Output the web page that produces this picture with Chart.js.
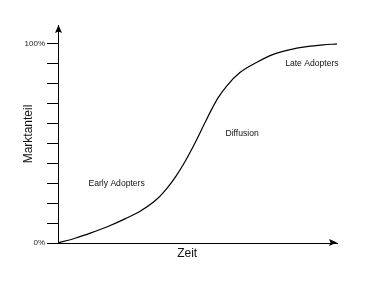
<!DOCTYPE html>
<html>
<head>
<meta charset="utf-8">
<script src="https://cdn.jsdelivr.net/npm/chart.js@4/dist/chart.umd.min.js"></script>
<style>
    body { margin: 0; background: #fff; }
    #chart { display: block; }
</style>
</head>
<body>
<canvas id="chart" width="372" height="289"></canvas>
<script>
// S-Kurve: Zeit (0..100) gegen Marktanteil (%)
const zeit = [0, 6.1, 11.8, 17.9, 24.0, 29.7, 35.8, 39.4, 42.3, 45.5, 49.1, 52.7, 55.2, 57.3, 60.6, 65.2, 71.3, 76.7, 82.8, 89.2, 95.0, 100];
const marktanteil = [0, 2.4, 5.1, 8.3, 12.1, 16.2, 22.5, 28.1, 33.6, 40.8, 50.2, 60.5, 67.5, 72.8, 79.1, 85.6, 90.8, 94.5, 97.0, 98.6, 99.5, 100];

const yTickValues = [0, 100];
const yTickTexts = ["0%", "100%"];

// Beschriftungen der Phasen (in Datenkoordinaten)
const phaseNames = ["Early Adopters", "Diffusion", "Late Adopters"];
const phaseX = [21, 66, 91];
const phaseY = [29.6, 54.8, 90];

const xTitle = "Zeit";
const xTitleAt = 46.3;
const yTitle = "Marktanteil";

const FONT = "'Liberation Sans', Arial, sans-serif";

// Pfeile, Texte, weisser Hintergrund
const decoPlugin = {
    id: "deco",
    beforeDraw(chart) {
        const ctx = chart.ctx;
        ctx.save();
        ctx.fillStyle = "#fff";
        ctx.fillRect(0, 0, chart.width, chart.height);
        ctx.restore();
    },
    afterDraw(chart) {
        const ctx = chart.ctx;
        const a = chart.chartArea;
        const xs = chart.scales.x;
        const ys = chart.scales.y;
        ctx.save();
        ctx.fillStyle = "#000";

        // Pfeil y-Achse
        const ax = a.left + 0.5;
        ctx.beginPath();
        ctx.moveTo(ax, a.top);
        ctx.lineTo(ax - 3.5, a.top + 8);
        ctx.lineTo(ax, a.top + 6.5);
        ctx.lineTo(ax + 3.5, a.top + 8);
        ctx.closePath();
        ctx.fill();

        // Pfeil x-Achse
        const by = a.bottom - 0.5;
        ctx.beginPath();
        ctx.moveTo(a.right, by);
        ctx.lineTo(a.right - 8, by - 3.5);
        ctx.lineTo(a.right - 6.5, by);
        ctx.lineTo(a.right - 8, by + 3.5);
        ctx.closePath();
        ctx.fill();

        // Phasen
        ctx.font = "8.6px " + FONT;
        ctx.fillStyle = "#111";
        ctx.textAlign = "center";
        ctx.textBaseline = "middle";
        phaseNames.forEach((name, i) => {
            ctx.fillText(name, xs.getPixelForValue(phaseX[i]), ys.getPixelForValue(phaseY[i]));
        });

        // x-Achsentitel
        ctx.font = "12px " + FONT;
        ctx.fillText(xTitle, xs.getPixelForValue(xTitleAt), a.bottom + 11);
        ctx.restore();
    }
};

const ctx = document.getElementById("chart").getContext("2d");
new Chart(ctx, {
    type: "line",
    data: {
        datasets: [{
            data: zeit.map((x, i) => ({ x: x, y: marktanteil[i] })),
            borderColor: "#000",
            borderWidth: 1.2,
            pointRadius: 0,
            fill: false,
            cubicInterpolationMode: "monotone"
        }]
    },
    options: {
        responsive: false,
        animation: false,
        layout: { padding: { top: 25, right: 35, bottom: 0, left: 0 } },
        plugins: { legend: { display: false }, tooltip: { enabled: false } },
        scales: {
            x: {
                type: "linear",
                min: 0,
                max: 100,
                ticks: { display: false },
                grid: { drawOnChartArea: false, drawTicks: false },
                border: { display: true, color: "#000", width: 1 },
                afterFit: s => { s.height = 46; }
            },
            y: {
                min: 0,
                max: 109.5,
                ticks: {
                    stepSize: 10,
                    padding: 2,
                    color: "#222",
                    font: { family: FONT, size: 8 },
                    callback: v => {
                        const k = yTickValues.indexOf(v);
                        return k >= 0 ? yTickTexts[k] : "";
                    }
                },
                afterBuildTicks: s => { s.ticks = s.ticks.filter(t => t.value <= 100); },
                grid: { drawOnChartArea: false, drawTicks: true, tickLength: 11, color: "#000" },
                border: { display: true, color: "#000", width: 1 },
                title: {
                    display: true,
                    text: yTitle,
                    color: "#111",
                    font: { family: FONT, size: 12 },
                    padding: { top: 21, bottom: 0 }
                },
                afterFit: s => { s.width = 58; }
            }
        }
    },
    plugins: [decoPlugin]
});
</script>
</body>
</html>
